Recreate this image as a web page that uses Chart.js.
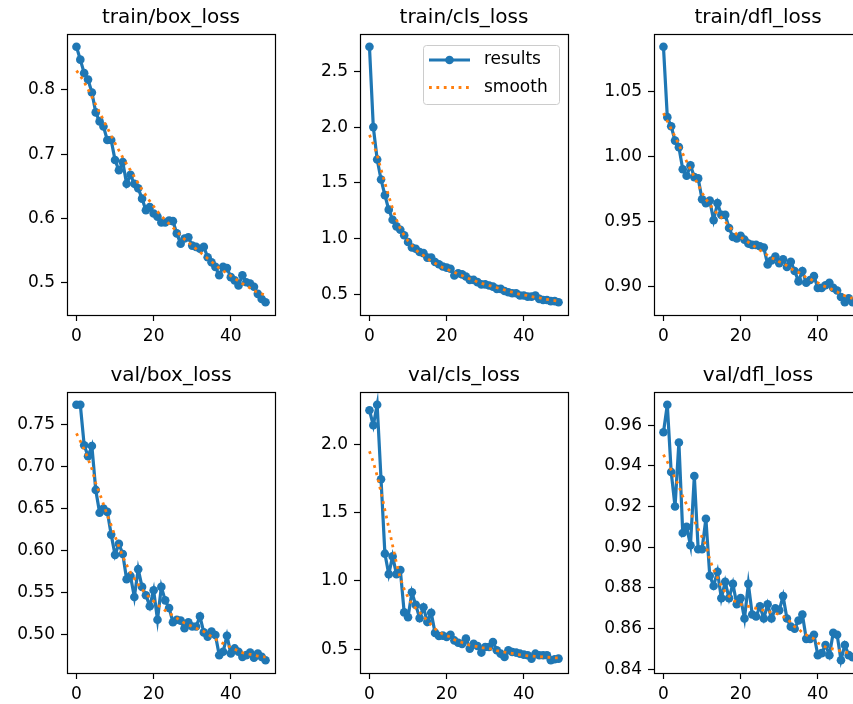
<!DOCTYPE html>
<html>
<head>
<meta charset="utf-8">
<script src="https://cdn.jsdelivr.net/npm/chart.js@4.4.1/dist/chart.umd.min.js"></script>
<style>
html,body{margin:0;padding:0;background:#fff;}
body{width:853px;height:704px;overflow:hidden;position:relative;}
canvas{position:absolute;}
</style>
</head>
<body>
<script>
// ---------------- data ----------------
const epochs = [0,1,2,3,4,5,6,7,8,9,10,11,12,13,14,15,16,17,18,19,20,21,22,23,24,25,26,27,28,29,30,31,32,33,34,35,36,37,38,39,40,41,42,43,44,45,46,47,48,49];
const seriesNames = ['results', 'smooth'];
const panelTitles = ['train/box_loss','train/cls_loss','train/dfl_loss','val/box_loss','val/cls_loss','val/dfl_loss'];
const xTickLabels = ['0','20','40'];

const trainBox = [0.867,0.847,0.826,0.816,0.796,0.765,0.751,0.743,0.722,0.722,0.691,0.675,0.688,0.654,0.668,0.654,0.647,0.631,0.613,0.618,0.608,0.603,0.594,0.594,0.597,0.596,0.577,0.561,0.569,0.571,0.558,0.556,0.553,0.556,0.540,0.532,0.525,0.512,0.525,0.523,0.509,0.504,0.496,0.512,0.501,0.499,0.494,0.483,0.475,0.470];
const trainBoxSmooth = [0.830,0.822,0.812,0.801,0.789,0.777,0.765,0.753,0.741,0.729,0.717,0.706,0.695,0.685,0.675,0.665,0.655,0.645,0.636,0.627,0.619,0.611,0.604,0.598,0.592,0.586,0.580,0.574,0.568,0.563,0.558,0.553,0.548,0.543,0.538,0.533,0.528,0.523,0.519,0.515,0.511,0.507,0.503,0.499,0.496,0.492,0.488,0.485,0.483,0.481];
const trainBoxTicks = ['0.5','0.6','0.7','0.8'];

const trainCls = [2.72,2.00,1.71,1.53,1.39,1.26,1.17,1.11,1.08,1.03,0.97,0.92,0.91,0.88,0.87,0.83,0.83,0.79,0.77,0.75,0.74,0.73,0.67,0.69,0.68,0.66,0.63,0.63,0.61,0.59,0.59,0.58,0.57,0.55,0.55,0.53,0.52,0.51,0.51,0.49,0.49,0.48,0.48,0.49,0.46,0.45,0.45,0.44,0.44,0.43];
const trainClsSmooth = [1.93,1.85,1.75,1.62,1.50,1.38,1.27,1.17,1.09,1.03,0.98,0.94,0.90,0.87,0.85,0.82,0.80,0.78,0.76,0.74,0.73,0.71,0.70,0.68,0.67,0.65,0.64,0.63,0.61,0.60,0.59,0.58,0.57,0.56,0.55,0.54,0.53,0.52,0.51,0.50,0.495,0.49,0.48,0.475,0.47,0.46,0.455,0.45,0.445,0.44];
const trainClsTicks = ['0.5','1.0','1.5','2.0','2.5'];

const trainDfl = [1.084,1.030,1.023,1.012,1.007,0.990,0.985,0.993,0.984,0.983,0.967,0.964,0.966,0.951,0.964,0.955,0.955,0.945,0.938,0.937,0.939,0.936,0.933,0.932,0.932,0.931,0.930,0.917,0.920,0.923,0.918,0.921,0.915,0.919,0.912,0.904,0.912,0.903,0.905,0.908,0.899,0.899,0.901,0.903,0.899,0.897,0.892,0.888,0.891,0.888];
const trainDflSmooth = [1.033,1.027,1.021,1.015,1.009,1.002,0.996,0.990,0.984,0.978,0.972,0.967,0.963,0.959,0.956,0.953,0.950,0.946,0.943,0.940,0.938,0.936,0.934,0.932,0.930,0.928,0.926,0.924,0.922,0.921,0.919,0.918,0.916,0.914,0.912,0.911,0.909,0.907,0.906,0.904,0.903,0.901,0.900,0.899,0.897,0.896,0.894,0.893,0.892,0.891];
const trainDflTicks = ['0.90','0.95','1.00','1.05'];

const valBox = [0.773,0.773,0.725,0.712,0.724,0.672,0.645,0.650,0.646,0.619,0.595,0.608,0.596,0.566,0.570,0.545,0.578,0.557,0.547,0.534,0.553,0.518,0.557,0.541,0.532,0.515,0.518,0.517,0.508,0.515,0.510,0.510,0.522,0.503,0.498,0.504,0.500,0.476,0.480,0.499,0.478,0.484,0.480,0.474,0.476,0.479,0.473,0.478,0.474,0.470];
const valBoxSmooth = [0.739,0.730,0.720,0.709,0.697,0.680,0.668,0.655,0.642,0.630,0.617,0.605,0.593,0.583,0.574,0.567,0.560,0.554,0.549,0.544,0.540,0.536,0.532,0.529,0.526,0.523,0.520,0.517,0.514,0.512,0.510,0.508,0.506,0.504,0.501,0.498,0.495,0.492,0.490,0.488,0.485,0.483,0.481,0.479,0.478,0.477,0.476,0.475,0.474,0.474];
const valBoxTicks = ['0.50','0.55','0.60','0.65','0.70','0.75'];

const valCls = [2.25,2.14,2.29,1.745,1.20,1.05,1.18,1.05,1.08,0.77,0.735,0.917,0.825,0.728,0.808,0.70,0.767,0.62,0.597,0.60,0.59,0.607,0.565,0.548,0.54,0.578,0.505,0.54,0.524,0.476,0.517,0.517,0.553,0.493,0.468,0.444,0.493,0.48,0.476,0.468,0.461,0.456,0.432,0.468,0.456,0.456,0.456,0.42,0.427,0.432];
const valClsSmooth = [1.95,1.87,1.77,1.65,1.52,1.39,1.26,1.13,1.02,0.94,0.88,0.83,0.80,0.77,0.74,0.71,0.68,0.65,0.63,0.61,0.60,0.59,0.57,0.56,0.55,0.54,0.53,0.525,0.52,0.51,0.51,0.505,0.50,0.49,0.485,0.48,0.475,0.47,0.465,0.46,0.455,0.452,0.45,0.448,0.446,0.444,0.442,0.44,0.438,0.437];
const valClsTicks = ['0.5','1.0','1.5','2.0'];

const valDfl = [0.9565,0.970,0.937,0.920,0.9515,0.907,0.910,0.901,0.935,0.899,0.899,0.914,0.886,0.881,0.888,0.875,0.883,0.875,0.882,0.872,0.875,0.865,0.882,0.867,0.866,0.871,0.865,0.872,0.865,0.870,0.869,0.876,0.865,0.861,0.860,0.864,0.867,0.855,0.855,0.857,0.847,0.848,0.852,0.847,0.858,0.857,0.8445,0.852,0.847,0.846];
const valDflSmooth = [0.9455,0.942,0.938,0.934,0.930,0.925,0.921,0.917,0.913,0.909,0.905,0.901,0.894,0.889,0.885,0.881,0.878,0.876,0.874,0.873,0.872,0.8715,0.871,0.8705,0.870,0.8695,0.869,0.8685,0.868,0.8675,0.867,0.866,0.865,0.863,0.861,0.860,0.858,0.857,0.856,0.855,0.853,0.852,0.851,0.8505,0.850,0.8495,0.849,0.8485,0.848,0.8475];
const valDflTicks = ['0.84','0.86','0.88','0.90','0.92','0.94','0.96'];

// ---------------- layout (styling only) ----------------
const COL_LEFT = [67, 360, 654];
const ROW_TOP = [34, 392];
const AX_W = 208, AX_H = 281;
const PAD_L = 62, PAD_T = 28, PAD_B = 36, PAD_R = 10;
const FONT = 'DejaVu Sans';
const BLUE = '#1f77b4', ORANGE = '#ff7f0e';

const panels = [
  {results: trainBox, smooth: trainBoxSmooth, ticks: trainBoxTicks, legend:false},
  {results: trainCls, smooth: trainClsSmooth, ticks: trainClsTicks, legend:true},
  {results: trainDfl, smooth: trainDflSmooth, ticks: trainDflTicks, legend:false},
  {results: valBox, smooth: valBoxSmooth, ticks: valBoxTicks, legend:false},
  {results: valCls, smooth: valClsSmooth, ticks: valClsTicks, legend:false},
  {results: valDfl, smooth: valDflSmooth, ticks: valDflTicks, legend:false}
];

const framePlugin = {
  id: 'frame',
  afterDraw(chart) {
    const {ctx, chartArea: a} = chart;
    ctx.save();
    ctx.strokeStyle = '#000';
    ctx.lineWidth = 1.2;
    ctx.strokeRect(Math.round(a.left) + 0.5, Math.round(a.top) + 0.5, Math.round(a.right - a.left), Math.round(a.bottom - a.top));
    ctx.restore();
  }
};

const innerLegend = {
  id: 'innerLegend',
  afterDraw(chart, args, opts) {
    if (!opts.show) return;
    const {ctx, chartArea: a} = chart;
    const w = 136, h = 59;
    const x = a.right - 9 - w, y = a.top + 11;
    ctx.save();
    ctx.beginPath();
    if (ctx.roundRect) ctx.roundRect(x + 0.5, y + 0.5, w, h, 3); else ctx.rect(x + 0.5, y + 0.5, w, h);
    ctx.fillStyle = 'rgba(255,255,255,0.8)';
    ctx.fill();
    ctx.strokeStyle = '#cccccc';
    ctx.lineWidth = 1;
    ctx.stroke();
    chart.data.datasets.forEach((ds, i) => {
      const yy = y + 15 + i * 27.5;
      ctx.beginPath();
      ctx.strokeStyle = ds.borderColor;
      ctx.lineWidth = ds.borderWidth;
      ctx.setLineDash(ds.borderDash || []);
      ctx.lineCap = 'butt';
      ctx.moveTo(x + 6, yy);
      ctx.lineTo(x + 47, yy);
      ctx.stroke();
      ctx.setLineDash([]);
      if (ds.pointRadius > 0) {
        ctx.beginPath();
        ctx.fillStyle = ds.borderColor;
        ctx.arc(x + 26.5, yy, ds.pointRadius, 0, Math.PI * 2);
        ctx.fill();
      }
      ctx.fillStyle = '#000';
      ctx.font = '17px "' + FONT + '"';
      ctx.textBaseline = 'middle';
      ctx.textAlign = 'left';
      ctx.fillText(ds.label, x + 61, yy);
    });
    ctx.restore();
  }
};

panels.forEach((p, idx) => {
  const col = idx % 3, row = Math.floor(idx / 3);
  const cv = document.createElement('canvas');
  const W = PAD_L + AX_W + PAD_R, H = PAD_T + AX_H + PAD_B;
  cv.width = W; cv.height = H;
  cv.style.width = W + 'px'; cv.style.height = H + 'px';
  cv.style.left = (COL_LEFT[col] - PAD_L) + 'px';
  cv.style.top = (ROW_TOP[row] - PAD_T) + 'px';
  document.body.appendChild(cv);

  const all = p.results.concat(p.smooth);
  const yLo = Math.min(...all), yHi = Math.max(...all);
  const ySpan = yHi - yLo;
  const xLo = epochs[0], xHi = epochs[epochs.length - 1];
  const xSpan = xHi - xLo;
  const tickFont = {family: FONT, size: 17};

  new Chart(cv, {
    type: 'line',
    data: {
      datasets: [
        {
          label: seriesNames[0],
          data: epochs.map((e, i) => ({x: e, y: p.results[i]})),
          borderColor: BLUE, backgroundColor: BLUE,
          borderWidth: 3.2, pointRadius: 4.3, pointBorderWidth: 0,
          pointBackgroundColor: BLUE, tension: 0, order: 1
        },
        {
          label: seriesNames[1],
          data: epochs.map((e, i) => ({x: e, y: p.smooth[i]})),
          borderColor: ORANGE, backgroundColor: ORANGE,
          borderWidth: 2.8, borderDash: [2.8, 4.6], borderCapStyle: 'butt',
          pointRadius: 0, tension: 0, order: 0
        }
      ]
    },
    options: {
      responsive: false,
      animation: false,
      events: [],
      layout: {padding: {left: 0, right: PAD_R, top: 0, bottom: 0}},
      plugins: {
        legend: {display: false},
        tooltip: {enabled: false},
        title: {
          display: true, fullSize: false, text: panelTitles[idx], color: '#000',
          font: {family: FONT, size: 20, weight: 'normal'},
          padding: {top: 0, bottom: 4}
        },
        innerLegend: {show: p.legend}
      },
      scales: {
        x: {
          type: 'linear',
          min: xLo - 0.05 * xSpan, max: xHi + 0.05 * xSpan,
          afterBuildTicks: s => { s.ticks = xTickLabels.map(t => ({value: parseFloat(t)})); },
          afterFit: s => { s.height = PAD_B; },
          grid: {display: true, drawOnChartArea: false, drawTicks: true, tickLength: 6, tickWidth: 1.2, tickColor: '#000'},
          border: {display: false},
          ticks: {font: tickFont, color: '#000', padding: 5, maxRotation: 0, autoSkip: false,
                  callback: v => xTickLabels.find(t => parseFloat(t) === v) ?? ''}
        },
        y: {
          type: 'linear',
          min: yLo - 0.05 * ySpan, max: yHi + 0.05 * ySpan,
          afterBuildTicks: s => { s.ticks = p.ticks.map(t => ({value: parseFloat(t)})); },
          afterFit: s => { s.width = PAD_L; },
          grid: {display: true, drawOnChartArea: false, drawTicks: true, tickLength: 6, tickWidth: 1.2, tickColor: '#000'},
          border: {display: false},
          ticks: {font: tickFont, color: '#000', padding: 6, autoSkip: false,
                  callback: v => p.ticks.find(t => Math.abs(parseFloat(t) - v) < 1e-9) ?? ''}
        }
      }
    },
    plugins: [framePlugin, innerLegend]
  });
});
</script>
</body>
</html>
